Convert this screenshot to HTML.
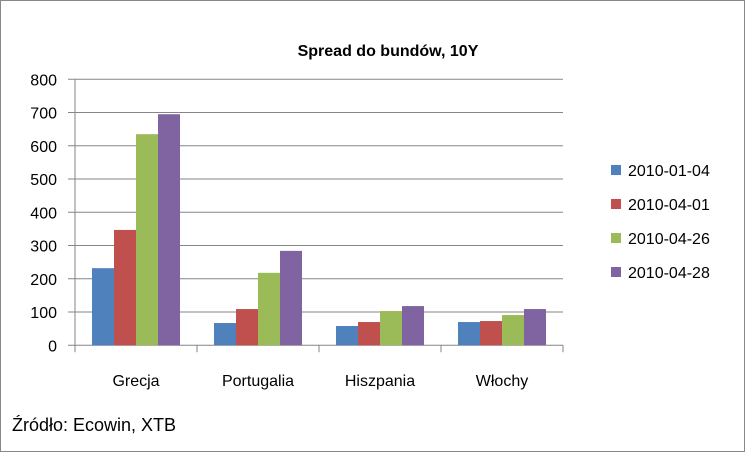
<!DOCTYPE html>
<html><head><meta charset="utf-8"><style>
body{margin:0;background:#fff;}
svg{display:block;font-family:"Liberation Sans",sans-serif;}
</style></head><body>
<svg id="c" width="748" height="455">
<rect x="0.5" y="0.5" width="744" height="451" fill="#fff" stroke="#888"/>
<text x="388" y="56" text-anchor="middle" font-size="16" font-weight="bold">Spread do bundów, 10Y</text>
<text x="12" y="431" font-size="18">Źródło: Ecowin, XTB</text>
<g id="plot"></g>
</svg>
<script>
const categories=["Grecja","Portugalia","Hiszpania","Włochy"];
const seriesNames=["2010-01-04","2010-04-01","2010-04-26","2010-04-28"];
const s1=[232,67,58,70];
const s2=[347,109,70,73];
const s3=[635,218,103,91];
const s4=[695,284,118,109];
const yTicks=[0,100,200,300,400,500,600,700,800];
const colors=["#4f81bd","#c0504d","#9bbb59","#8064a2"];
const series=[s1,s2,s3,s4];
const X0=75,X1=563,Y0=345.3,Y1=79.3,YMAX=800;
const y=v=>Y0-(v/YMAX)*(Y0-Y1);
const cw=(X1-X0)/categories.length;
const g=document.getElementById('plot');
const NS="http://www.w3.org/2000/svg";
function mk(t,a){const e=document.createElementNS(NS,t);for(const k in a)e.setAttribute(k,a[k]);g.appendChild(e);return e;}
yTicks.forEach(t=>{
  const l=mk('line',{x1:X0-7,x2:X1,y1:y(t),y2:y(t),stroke:'#868686','stroke-width':1});
  
  
  const tx=mk('text',{x:X0-18,y:y(t)+6,'text-anchor':'end','font-size':16});
  tx.textContent=t;
  
  
});
const ya=mk('line',{x1:X0,x2:X0,y1:Y1,y2:Y0,stroke:'#868686'});


for(let i=0;i<=categories.length;i++){
  const l=mk('line',{x1:X0+i*cw,x2:X0+i*cw,y1:Y0,y2:Y0+7,stroke:'#868686'});
  
  
}
const bw=22,pad=(cw-4*bw)/2;
categories.forEach((c,i)=>{
  series.forEach((s,j)=>{
    const r=mk('rect',{x:X0+i*cw+pad+j*bw,y:y(s[i]),width:bw,height:Y0-y(s[i]),fill:colors[j]});
    
    
  });
  const t=mk('text',{x:X0+i*cw+cw/2,y:386,'text-anchor':'middle','font-size':16});
  t.textContent=c;
  
  
});
seriesNames.forEach((n,j)=>{
  const yy=170+j*34;
  const r=mk('rect',{x:611,y:yy-5,width:10,height:10,fill:colors[j]});
  
  
  const t=mk('text',{x:628,y:yy+6,'font-size':16});
  t.textContent=n;
  
  
});
</script>
</body></html>
